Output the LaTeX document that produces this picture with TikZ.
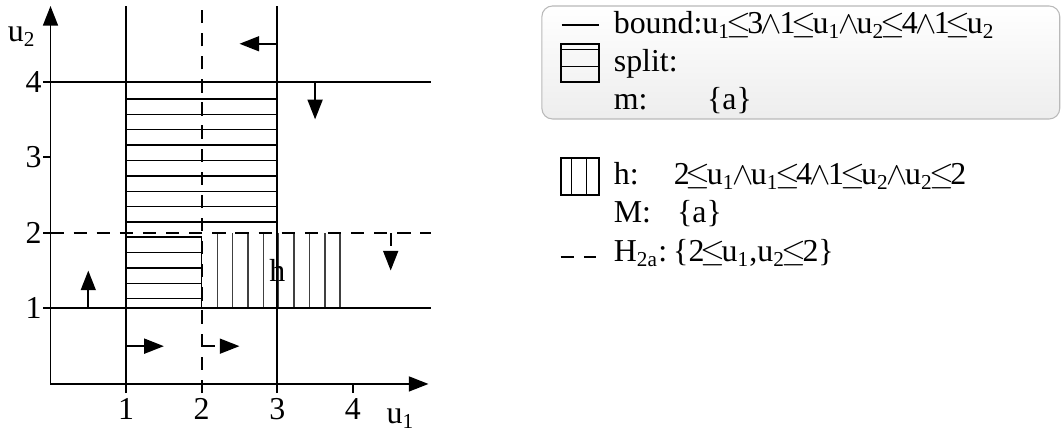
\documentclass[tikz,border=0pt]{standalone}
\usepackage{fontspec}
\setmainfont{Liberation Serif}
\usetikzlibrary{arrows.meta}
\newcommand{\cLeq}{\kern-0.12em\ensuremath{\leq}\kern-0.12em}
\newcommand{\cAnd}{\kern-0.08em\ensuremath{\wedge}\kern-0.08em}
\newcommand{\uSub}[1]{u\textsubscript{#1}}

\begin{document}
\begin{tikzpicture}[x=1cm,y=1cm,font=\fontsize{12}{14}\selectfont,
  bnd/.style={line width=0.75pt},
  hyp/.style={line width=0.75pt, dash pattern=on 5pt off 3.7pt},
  hatch/.style={line width=0.55pt},
  dir/.style={line width=0.75pt, -{Triangle[length=7.4pt,width=5.6pt]}},
  lbl/.style={anchor=base, inner sep=0pt},
  leg/.style={anchor=base west, inner sep=0pt}]
\useasboundingbox (-0.668,-0.595) rectangle (13.38,5.079);
% axes
\draw[dir] (0,0) -- (5,0);
\draw[dir] (0,0) -- (0,5);
\foreach \i in {1,...,4} {
  \draw[bnd] (\i,0) -- (\i,-0.12);
  \draw[bnd] (0,\i) -- (-0.1,\i);
  \node[lbl] (xt\i) at (\i,-0.476) {\i};
  \node[anchor=center, inner sep=0pt] (yt\i) at (-0.225,\i) {\i};
}
\node[lbl] (u1lbl) at (4.63,-0.52) {\uSub{1}};
\node[lbl] (u2lbl) at (-0.38,4.53) {\uSub{2}};
% split hatching
\foreach \k in {0,...,8}
  \draw[hatch] (1,{2.14+0.204*\k}) -- (3,{2.14+0.204*\k});
\foreach \k in {0,...,4}
  \draw[hatch] (1,{1.128+0.204*\k}) -- (2,{1.128+0.204*\k});
\draw[hatch] (2,1) -- (2,1.944);
% h hatching
\foreach \k in {0,...,8}
  \draw[hatch, black!75] ({2.207+0.203*\k},1) -- ({2.207+0.203*\k},2);
% bounds
\draw[bnd] (1,-0.12) -- (1,5);
\draw[bnd] (3,-0.12) -- (3,5);
\draw[bnd] (0,1) -- (5.03,1);
\draw[bnd] (0,4) -- (5.03,4);
\draw[hyp] (2,-0.12) -- (2,5);
\draw[hyp] (0,2) -- (5.03,2);
\node[lbl] (hlbl) at (3,1.355) {h};
% directions
\draw[dir] (3,4.5) -- (2.5,4.5);
\draw[dir] (3.5,4) -- (3.5,3.5);
\draw[dir] (0.5,1) -- (0.5,1.5);
\draw[dir] (1,0.5) -- (1.5,0.5);
\draw[dir, hyp] (2,0.5) -- (2.5,0.5);
\draw[dir, hyp] (4.5,2) -- (4.5,1.5);
% legend
\draw[draw=gray!55, line width=0.4pt, rounded corners=4pt, top color=white, bottom color=gray!14] (6.5,3.505) rectangle (13.35,5.0);
\draw[bnd] (6.76,4.75) -- (7.25,4.75);
\node[leg] (boundtxt) at (7.445,4.639) {bound:\uSub{1}\cLeq3\cAnd1\cLeq\uSub{1}\cAnd\uSub{2}\cLeq4\cAnd1\cLeq\uSub{2}};
\draw[bnd] (6.748,3.999) rectangle (7.26,4.493);
\draw[hatch] (6.748,4.427) -- (7.26,4.427);
\draw[hatch] (6.748,4.197) -- (7.26,4.197);
\node[leg] (splittxt) at (7.445,4.13) {split:};
\node[leg] (mtxt) at (7.445,3.624) {m:};
\node[leg] (mset) at (8.679,3.624) {\{a\}};
\draw[bnd] (6.748,2.5) rectangle (7.26,2.985);
\draw[hatch] (6.894,2.5) -- (6.894,2.985);
\draw[hatch] (7.093,2.5) -- (7.093,2.985);
\node[leg] (htxt) at (7.445,2.641) {h:};
\node[leg] (hexpr) at (8.238,2.641) {2\cLeq\uSub{1}\cAnd\uSub{1}\cLeq4\cAnd1\cLeq\uSub{2}\cAnd\uSub{2}\cLeq2};
\node[leg] (Mtxt) at (7.445,2.134) {M:};
\node[leg] (Mset) at (8.282,2.134) {\{a\}};
\draw[hyp] (6.748,1.684) -- (7.22,1.684);
\node[leg] (Htxt) at (7.445,1.618) {H\textsubscript{2a}:};
\node[leg] (Hset) at (8.23,1.618) {\{2\cLeq\uSub{1},\uSub{2}\cLeq2\}};
\end{tikzpicture}
\end{document}
